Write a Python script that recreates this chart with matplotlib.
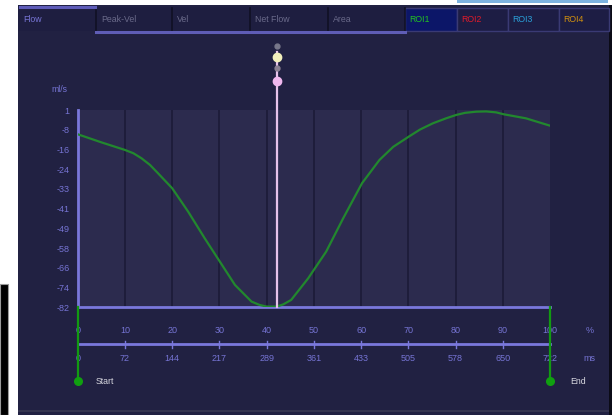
import numpy as np
import matplotlib
matplotlib.use("Agg")
import matplotlib.pyplot as plt
from matplotlib.transforms import blended_transform_factory
from matplotlib.patches import Rectangle

# ---- data ----
pct = [0, 5, 10, 11.8, 13.5, 15.3, 17, 20, 23.4, 26.9, 30.1, 33.3, 36.8, 38.5, 40, 42.1,
       43.5, 45.2, 48.8, 52.6, 56.2, 60.2, 63.9, 66.8, 70.1, 72.5, 75.2, 78, 80.1, 82,
       84.4, 86.5, 88.6, 90.2, 94.9, 100]
flow = [-9.2, -12.6, -15.8, -17.2, -19.3, -22.1, -25.6, -31.9, -41.8, -53.0, -62.8, -72.6,
        -79.6, -81.0, -81.7, -81.7, -80.8, -78.9, -69.8, -58.6, -44.6, -29.8, -20.0, -14.5,
        -10.2, -7.2, -4.6, -2.5, -1.1, -0.2, 0.3, 0.4, 0.0, -0.8, -2.5, -5.6]
ytick_labels = ["1", "-8", "-16", "-24", "-33", "-41", "-49", "-58", "-66", "-74", "-82"]
pct_ticks = [0, 10, 20, 30, 40, 50, 60, 70, 80, 90, 100]
ms_labels = ["0", "72", "144", "217", "289", "361", "433", "505", "578", "650", "722"]
tabs = ["Flow", "Peak-Vel", "Vel", "Net Flow", "Area"]
rois = ["ROI1", "ROI2", "ROI3", "ROI4"]
roi_colors = ["#22c022", "#e01a2a", "#2a9fd8", "#d0900f"]
cursor_pct = 42.1

plt.rcParams['font.family'] = ['Liberation Sans', 'DejaVu Sans']

W, H = 615, 415
fig = plt.figure(figsize=(6.15, 4.15), dpi=100, facecolor='white')
bg = fig.add_axes([0, 0, 1, 1], zorder=0)
bg.set_xlim(0, W)
bg.set_ylim(H, 0)
bg.axis('off')

PANEL = '#212142'
LAV = '#7a78dc'
LAVTXT = '#7674d4'

def rect(x0, y0, x1, y1, color, **kw):
    bg.add_patch(Rectangle((x0, y0), x1 - x0, y1 - y0, facecolor=color, edgecolor='none', **kw))

# panel and surroundings
rect(18, 5, 610, 415, PANEL)
rect(18, 410, 610, 412, '#34344f')
rect(609, 5, 612, 415, '#0b0b16')
rect(457, 0, 608, 3.5, '#7db3e0')
bg.add_patch(Rectangle((0, 284), 8, 131, facecolor='black', edgecolor='#9a9a9a', lw=0.8))

# tab bar
edges = [18, 96, 172, 250, 328, 405]
for i, t in enumerate(tabs):
    x0, x1 = edges[i], edges[i + 1]
    rect(x0, 7, x1, 31, '#1e1e40')
    bg.plot([x1, x1], [8, 31], color='#101024', lw=1.2)
    bg.text(x0 + 5, 19, t, color=(LAVTXT if i == 0 else '#6a6a8a'), fontsize=6.3,
            ha='left', va='center')
bg.plot([20, 95], [7.5, 7.5], color='#5e5cb8', lw=2.2)
bg.plot([96, 405], [32, 32], color='#5f5db6', lw=2.2)
roi_edges = [405, 457, 508, 559, 609]
for i, r in enumerate(rois):
    x0, x1 = roi_edges[i], roi_edges[i + 1]
    bg.add_patch(Rectangle((x0, 8), x1 - x0, 23, facecolor=('#0c1668' if i == 0 else '#1d1d44'),
                           edgecolor='#3a3a74', lw=1.0))
    bg.text(x0 + 4, 19, r, color=roi_colors[i], fontsize=6.3, ha='left', va='center')

# ---- main chart ----
L, R, T, B = 77.7, 550, 110, 307.3
ax = fig.add_axes([L / W, 1 - B / H, (R - L) / W, (B - T) / H], zorder=1)
ax.set_facecolor('#2c2b4e')
ax.set_xlim(0, 100)
ax.set_ylim(-82, 1)
for s in ['top', 'right']:
    ax.spines[s].set_visible(False)
for s in ['left', 'bottom']:
    ax.spines[s].set_color(LAV)
    ax.spines[s].set_linewidth(2)
ax.set_xticks([])
ax.set_yticks(np.linspace(1, -82, len(ytick_labels)))
ax.set_yticklabels(ytick_labels)
ax.tick_params(axis='y', length=0, pad=6, labelsize=6.5, labelcolor=LAVTXT)
ax.vlines(pct_ticks[1:-1], -82, 1, color='#1c1b38', lw=1.2, zorder=1)
ax.plot(pct, flow, color='#22882e', lw=1.6, solid_joinstyle='round', solid_capstyle='round',
        zorder=3)

tr = blended_transform_factory(ax.transData, bg.transData)

# cursor
ax.plot([cursor_pct, cursor_pct], [52, B], transform=tr, color='#e6c2ea', lw=1.6,
        clip_on=False, zorder=4)
ax.plot([cursor_pct], [46], 'o', transform=tr, ms=3.5, color='#77778a', clip_on=False, zorder=5)
ax.plot([cursor_pct], [68], 'o', transform=tr, ms=3.5, color='#8a8092', clip_on=False, zorder=5)
ax.plot([cursor_pct], [57], 'o', transform=tr, ms=6, color='#f2f0bc', clip_on=False, zorder=5)
ax.plot([cursor_pct], [81], 'o', transform=tr, ms=6, color='#f0b8ee', clip_on=False, zorder=5)

# percent scale
for p in pct_ticks:
    ax.text(p, 330, str(p), transform=tr, ha='center', va='center', fontsize=6.5,
            color=LAVTXT, clip_on=False)
ax.plot([0, 100], [344, 344], transform=tr, color=LAV, lw=2, clip_on=False)
for p in pct_ticks[1:-1]:
    ax.plot([p, p], [340.5, 347.5], transform=tr, color=LAV, lw=1, clip_on=False)
for p, lab in zip(pct_ticks, ms_labels):
    ax.text(p, 358, lab, transform=tr, ha='center', va='center', fontsize=6.5,
            color=LAVTXT, clip_on=False)
bg.text(590, 330, "%", ha='center', va='center', fontsize=6.5, color=LAVTXT)
bg.text(589, 358, "ms", ha='center', va='center', fontsize=6.5, color=LAVTXT)
bg.text(59, 90, "ml/s", ha='center', va='center', fontsize=6.3, color=LAVTXT)

# start / end markers
for p in [pct_ticks[0], pct_ticks[-1]]:
    ax.plot([p, p], [B, 380], transform=tr, color='#129a12', lw=1.6, clip_on=False, zorder=4)
    ax.plot([p], [381], 'o', transform=tr, ms=5.5, color='#10a010', clip_on=False, zorder=5)
bg.text(96, 381, "Start", ha='left', va='center', fontsize=6.3, color='#d8d8e0')
bg.text(570, 381, "End", ha='left', va='center', fontsize=6.3, color='#d8d8e0')

fig.savefig("out.png", dpi=100, facecolor='white')
